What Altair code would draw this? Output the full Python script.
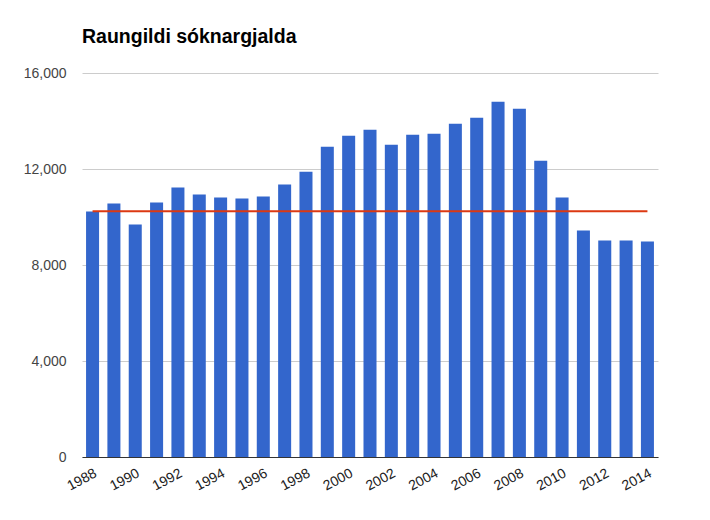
import altair as alt
import pandas as pd

years = list(range(1988, 2015))
values = [10228, 10560, 9689, 10602, 11225, 10934, 10810, 10768, 10851, 11350,
          11890, 12928, 13385, 13634, 13011, 13427, 13468, 13883, 14133, 14797,
          14506, 12347, 10810, 9440, 9024, 9024, 8983]
reference_level = 10240
label_years = [y for y in years if y % 2 == 0]

df = pd.DataFrame({"year": years, "value": values})
df["reference"] = reference_level

font = "Liberation Sans"

x = alt.X("year:O", title=None,
          scale=alt.Scale(paddingInner=0.39, paddingOuter=0.19),
          axis=alt.Axis(values=label_years, labelAngle=-28, labelAlign="right",
                        labelBaseline="top", labelPadding=9, ticks=False,
                        domainColor="#333333", labelColor="#222222",
                        labelFontSize=14, labelFont=font))

bars = alt.Chart(df).mark_bar(color="#3366cc").encode(
    x=x,
    y=alt.Y("value:Q", title=None,
            scale=alt.Scale(domain=[0, 16000], nice=False),
            axis=alt.Axis(values=[0, 4000, 8000, 12000, 16000], format=",d",
                          ticks=False, domain=False, gridColor="#cccccc",
                          labelColor="#444444", labelFontSize=14,
                          labelFont=font, labelPadding=16)),
)

line = alt.Chart(df).mark_line(color="#dc3912", strokeWidth=2).encode(
    x=alt.X("year:O"),
    y=alt.Y("reference:Q"),
)

chart = (bars + line).properties(
    width=576, height=384,
    title=alt.TitleParams("Raungildi sóknargjalda", anchor="start", frame="group",
                          font=font, fontSize=19.5, fontWeight="bold",
                          color="#000000", offset=19),
    autosize=alt.AutoSizeParams(type="none"),
    padding={"left": 74, "top": 65, "right": 44, "bottom": 50},
).configure_view(stroke=None)

chart.save("out.html", embed_options={"renderer": "svg", "actions": False})
